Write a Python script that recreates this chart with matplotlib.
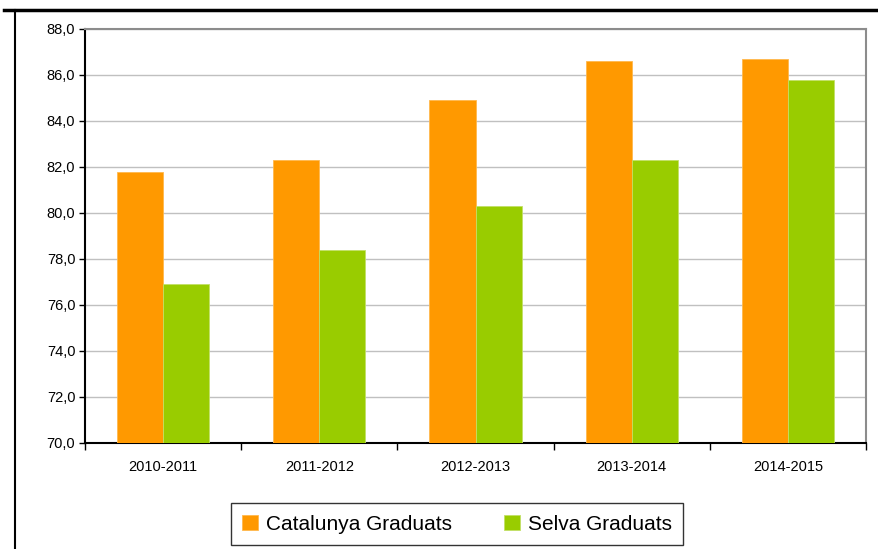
#!/usr/bin/env python3
# -*- coding: utf-8 -*-

import matplotlib
matplotlib.use('Agg')
import matplotlib.pyplot as plt
import numpy as np
from matplotlib.lines import Line2D

courses = ['2010-2011', '2011-2012', '2012-2013', '2013-2014', '2014-2015']
catalunya = [81.8, 82.3, 84.9, 86.6, 86.7]
selva = [76.9, 78.4, 80.3, 82.3, 85.8]
yticks = [70, 72, 74, 76, 78, 80, 82, 84, 86, 88]

plt.rcParams['font.family'] = ['Liberation Sans', 'DejaVu Sans']


def plot():
    fig = plt.figure(figsize=(8.79, 5.49), dpi=100)
    ax = fig.add_axes([85 / 879, 106 / 549, 781 / 879, 414 / 549])

    x = np.arange(len(courses))
    w = 0.295
    ax.bar(x - w / 2, catalunya, w, color='#ff9900',
           edgecolor='#ffb84d', lw=0.6, label='Catalunya Graduats', zorder=3)
    ax.bar(x + w / 2, selva, w, color='#99cc00',
           edgecolor='#c2e066', lw=0.6, label='Selva Graduats', zorder=3)

    ax.set_ylim(70, 88)
    ax.set_xlim(-0.5, len(courses) - 0.5)
    ax.set_yticks(yticks)
    ax.set_yticklabels([('%.1f' % v).replace('.', ',') for v in yticks],
                       fontsize=10.5)
    ax.yaxis.grid(True, color='#c0c0c0', lw=1, zorder=0)

    # category labels between boundary ticks
    ax.set_xticks(np.arange(len(courses) + 1) - 0.5)
    ax.set_xticklabels([])
    ax.set_xticks(x, minor=True)
    ax.set_xticklabels(courses, minor=True, fontsize=10.5)
    ax.tick_params(axis='x', which='minor', length=0, pad=12)
    ax.tick_params(axis='x', which='major', length=5, width=1, direction='out')
    ax.tick_params(axis='y', length=4, width=1, direction='out', pad=3)

    for s in ['left', 'bottom']:
        ax.spines[s].set_color('black')
        ax.spines[s].set_linewidth(1.5)
    for s in ['top', 'right']:
        ax.spines[s].set_color('#8c8c8c')
        ax.spines[s].set_linewidth(1.5)

    leg = ax.legend(loc='center', bbox_to_anchor=(457 / 879, 25 / 549),
                    bbox_transform=fig.transFigure, ncol=2, fontsize=15,
                    frameon=True, fancybox=False, edgecolor='black',
                    handlelength=0.75, handleheight=0.75, handletextpad=0.4,
                    columnspacing=2.5, borderpad=0.55)
    leg.get_frame().set_linewidth(1.0)

    # outer chart frame fragment
    fig.add_artist(Line2D([4 / 879, 1.0], [539 / 549, 539 / 549],
                          color='black', lw=2.5))
    fig.add_artist(Line2D([15 / 879, 15 / 879], [0, 539 / 549],
                          color='black', lw=1.5))

    fig.savefig('out.png', dpi=100)


def main():
    plot()


if __name__ == '__main__':
    main()
